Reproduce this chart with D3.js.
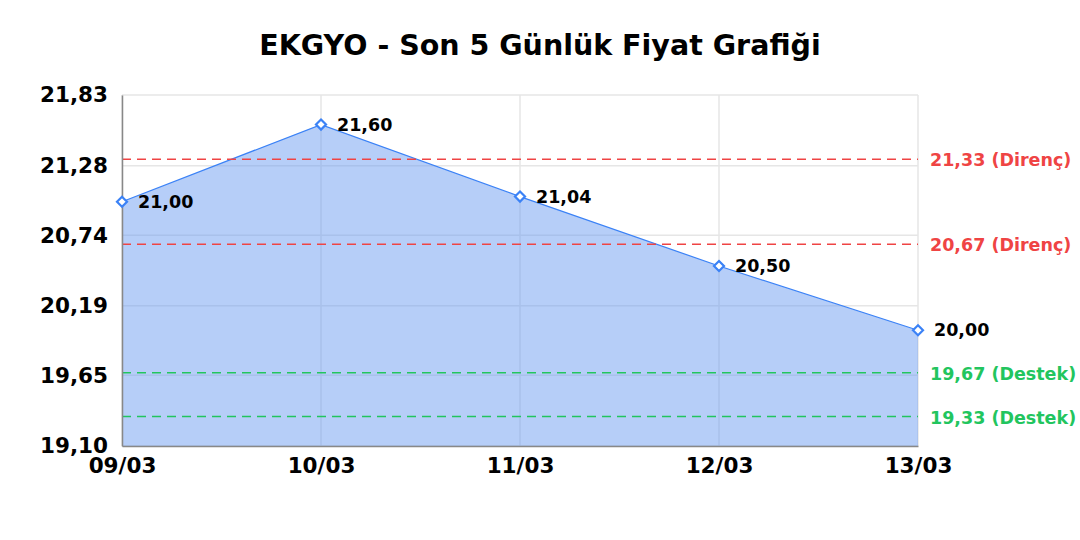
<!DOCTYPE html>
<html>
<head>
<meta charset="utf-8">
<script src="https://cdn.jsdelivr.net/npm/d3@7"></script>
<style>
  body { margin: 0; background: #fff; }
  text { font-family: "DejaVu Sans", sans-serif; }
</style>
</head>
<body>
<svg id="chart" width="1080" height="540"></svg>
<script>
// chart data
const dates = ['09/03', '10/03', '11/03', '12/03', '13/03']
const prices = [21.00, 21.60, 21.04, 20.50, 20.00]
const yTicks = [19.10, 19.65, 20.19, 20.74, 21.28, 21.83]
const resistance = [21.33, 20.67]
const support = [19.67, 19.33]

const margin = { top: 95, left: 122, right: 162, bottom: 94 }
const width = 1080, height = 540
const svg = d3.select('#chart')

const fmt = v => v.toFixed(2).replace('.', ',')

const x = d3.scalePoint()
    .domain(dates)
    .range([margin.left, width - margin.right])

const y = d3.scaleLinear()
    .domain([19.10, 21.83])
    .range([height - margin.bottom, margin.top])

// title
svg.append('text')
    .attr('x', 540)
    .attr('y', 55)
    .attr('text-anchor', 'middle')
    .style('font-size', '28.5px')
    .style('font-weight', 'bold')
    .text('EKGYO - Son 5 Günlük Fiyat Grafiği')

// grid
svg.append('g')
    .selectAll('line')
    .data(yTicks)
    .join('line')
    .attr('x1', margin.left).attr('x2', width - margin.right)
    .attr('y1', d => y(d)).attr('y2', d => y(d))
    .attr('stroke', '#e6e6e6')
    .attr('stroke-width', 1.5)

svg.append('g')
    .selectAll('line')
    .data(dates)
    .join('line')
    .attr('x1', d => x(d)).attr('x2', d => x(d))
    .attr('y1', margin.top).attr('y2', height - margin.bottom)
    .attr('stroke', '#e6e6e6')
    .attr('stroke-width', 1.5)

// area + line
const area = d3.area()
    .x((d, i) => x(dates[i]))
    .y0(y(19.10))
    .y1(d => y(d))

svg.append('path')
    .datum(prices)
    .attr('d', area)
    .attr('fill', 'rgba(100, 150, 240, 0.47)')

svg.append('path')
    .datum(prices)
    .attr('d', d3.line().x((d, i) => x(dates[i])).y(d => y(d)))
    .attr('fill', 'none')
    .attr('stroke', '#3b82f6')
    .attr('stroke-width', 1.2)

// reference lines
function refLines(vals, color, label) {
    const g = svg.append('g')
    g.selectAll('line')
        .data(vals)
        .join('line')
        .attr('x1', margin.left).attr('x2', width - margin.right)
        .attr('y1', d => y(d)).attr('y2', d => y(d))
        .attr('stroke', color)
        .attr('stroke-width', 1.5)
        .attr('stroke-dasharray', '9,6')
    g.selectAll('text')
        .data(vals)
        .join('text')
        .attr('x', width - margin.right + 12)
        .attr('y', d => y(d) + 1)
        .attr('dy', '0.35em')
        .attr('fill', color)
        .style('font-size', '17.5px')
        .style('font-weight', 'bold')
        .text(d => fmt(d) + ' (' + label + ')')
}
refLines(resistance, '#ef4444', 'Direnç')
refLines(support, '#22c55e', 'Destek')

// axes
const yAxis = svg.append('g')
    .attr('transform', `translate(${margin.left},0)`)
    .call(d3.axisLeft(y).tickValues(yTicks).tickSize(0).tickPadding(14).tickFormat(fmt))
yAxis.select('.domain').attr('stroke', '#888').attr('stroke-width', 1.5)
yAxis.selectAll('text')
    .style('font-family', '"DejaVu Sans", sans-serif')
    .style('font-size', '21.5px')
    .style('font-weight', 'bold')
    .attr('fill', '#000')

const xAxis = svg.append('g')
    .attr('transform', `translate(0,${height - margin.bottom})`)
    .call(d3.axisBottom(x).tickSize(0).tickPadding(12))
xAxis.select('.domain').attr('stroke', '#888').attr('stroke-width', 1.5)
xAxis.selectAll('text')
    .style('font-family', '"DejaVu Sans", sans-serif')
    .style('font-size', '21.5px')
    .style('font-weight', 'bold')
    .attr('fill', '#000')

// markers
svg.append('g')
    .selectAll('path')
    .data(prices)
    .join('path')
    .attr('d', d3.symbol(d3.symbolDiamond2, 64))
    .attr('transform', (d, i) => `translate(${x(dates[i])},${y(d)})`)
    .attr('fill', '#fff')
    .attr('stroke', '#3b82f6')
    .attr('stroke-width', 2.2)

// data labels
svg.append('g')
    .selectAll('text')
    .data(prices)
    .join('text')
    .attr('x', (d, i) => x(dates[i]) + 16)
    .attr('y', d => y(d))
    .attr('dy', '0.35em')
    .style('font-size', '17.5px')
    .style('font-weight', 'bold')
    .text(d => fmt(d))
</script>
</body>
</html>
